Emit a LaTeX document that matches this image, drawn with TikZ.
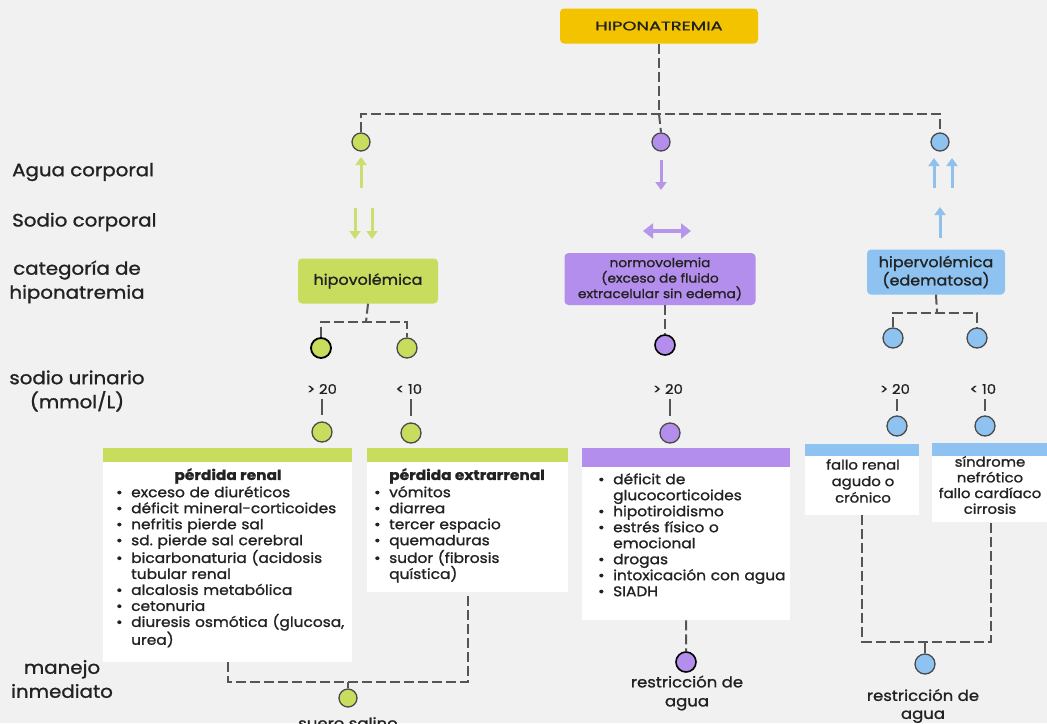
\documentclass[tikz,border=0pt]{standalone}
\usepackage{fontspec}
\setmainfont{Poppins}[FakeStretch=1.1, FakeBold=1.2]
\usetikzlibrary{arrows.meta}
\definecolor{bg}{HTML}{F1F1F1}
\definecolor{gold}{HTML}{F3C300}
\definecolor{lime}{HTML}{C8DC5E}
\definecolor{lav}{HTML}{B48EEC}
\definecolor{sky}{HTML}{8EC3F1}
\definecolor{limeA}{HTML}{CADE72}
\definecolor{lavA}{HTML}{B696EA}
\definecolor{skyA}{HTML}{8FC1EC}
\definecolor{dashc}{HTML}{555555}
\definecolor{ring}{HTML}{4A4A4A}
\definecolor{ink}{HTML}{222222}
\newcommand\myfs[2]{\fontsize{#1}{#2}\selectfont}
\newcommand\bitem[1]{\par\hangindent=16pt\hangafter=1\noindent\makebox[16pt][l]{\hspace{1pt}\textbullet}#1}
\tikzset{
 dl/.style={draw=dashc, line width=2pt, dash pattern=on 10pt off 4pt},
 stub/.style={draw=dashc, line width=2pt},
 dot/.style={circle, draw=ring, line width=1.3pt, minimum size=18pt, inner sep=0pt},
 dotb/.style={circle, draw=ring, line width=1.3pt, minimum size=20pt, inner sep=0pt},
 rowlab/.style={font=\myfs{18}{24}, text=ink, inner sep=0pt},
 cat/.style={rounded corners=4pt, inner sep=0pt, align=center, font=\myfs{12.5}{15.5}, text=ink},
 card/.style={fill=white, inner sep=0pt, anchor=north west},
 list/.style={anchor=north west, inner sep=0pt, align=left, font=\myfs{14}{16}, text=ink},
 lab/.style={font=\myfs{13.5}{16}, text=ink, inner sep=0pt},
 arr/.style={line width=3pt, -{Triangle[width=11pt,length=8pt]}},
}
\begin{document}
\begin{tikzpicture}[x=1pt,y=-1pt]
\fill[bg] (0,0) rectangle (1047,723);
\clip (0,0) rectangle (1047,723);

% title
\node[cat, fill=gold, minimum width=198pt, minimum height=35pt, font=\myfs{12.5}{16}] (top) at (659,26) {\scalebox{1.3}[1]{HIPONATREMIA}};

% row labels
\node[rowlab, anchor=west] (l1) at (12,172) {Agua corporal};
\node[rowlab, anchor=west] (l2) at (12,222) {Sodio corporal};
\node[rowlab, align=center] (l3) at (77,282) {categoría de\\hiponatremia};
\node[rowlab, align=center] (l4) at (77,391) {sodio urinario\\(mmol/L)};
\node[rowlab, align=center] (l5) at (62,679) {manejo\\inmediato};

% top circles
\node[dot, fill=lime] (c1) at (361,142) {};
\node[dot, fill=lav] (c2) at (661,142) {};
\node[dot, fill=sky] (c3) at (940,142) {};
\coordinate (j1) at (659,114);
\draw[dl] (top.south) -- (j1);
\draw[dl] (c1.north) |- (j1) -| (c3.north);
\draw[dl] (j1) -- (c2.north);

% arrows
\draw[arr, limeA] (361,188) -- (361,157);
\draw[arr, lavA] (661,160) -- (661,190);
\draw[arr, skyA] (934,188) -- (934,158);
\draw[arr, skyA] (952,188) -- (952,158);
\draw[arr, limeA] (355,208) -- (355,239);
\draw[arr, limeA] (372,208) -- (372,239);
\draw[line width=4pt, lavA, {Triangle[width=15pt,length=10pt]}-{Triangle[width=15pt,length=10pt]}] (643,231) -- (691,231);
\draw[arr, skyA] (940,238) -- (940,207);

% category boxes
\node[cat, fill=lime, minimum width=140pt, minimum height=45pt, font=\myfs{14.5}{17}] (hypo) at (368,281) {hipovolémica};
\node[cat, fill=lav, minimum width=191pt, minimum height=52pt] (normo) at (660,279) {normovolemia\\(exceso de fluido\\extracelular sin edema)};
\node[cat, fill=sky, minimum width=138pt, minimum height=45pt, font=\myfs{14.5}{17}] (hyper) at (936,272) {hipervolémica\\(edematosa)};

% second-level circles
\node[dotb, fill=lime, draw=black, line width=1.8pt] (c4) at (321,348) {};
\node[dotb, fill=lime] (c5) at (407,348) {};
\node[dotb, fill=lav, draw=black, line width=1.6pt] (c6) at (665,345) {};
\node[dotb, fill=sky] (c7) at (893,338) {};
\node[dotb, fill=sky] (c8) at (977,338) {};
\coordinate (j2) at (366,322);
\coordinate (j3) at (937,313);
\draw[dl] (hypo.south) -- (j2);
\draw[dl] (c4.north) |- (j2) -| (c5.north);
\draw[dl] (c6.north |- normo.south) -- (c6.north);
\draw[dl] (hyper.south) -- (j3);
\draw[dl] (c7.north) |- (j3) -| (c8.north);

% urinary sodium labels
\node[lab] (g1) at (322,389) {> 20};
\node[lab] (g2) at (409,389) {< 10};
\node[lab] (g3) at (668,389) {> 20};
\node[lab] (g4) at (895,389) {> 20};
\node[lab] (g5) at (983,389) {< 10};

% third-level circles
\node[dotb, fill=lime] (d1) at (322,432) {};
\node[dotb, fill=lime] (d2) at (411,433) {};
\node[dotb, fill=lav] (d3) at (670,433) {};
\node[dotb, fill=sky] (d4) at (897,426) {};
\node[dotb, fill=sky] (d5) at (985,426) {};
\draw[stub, shorten <=5pt, shorten >=6pt] (d1.north |- g1.south) -- (d1.north);
\draw[stub, shorten <=5pt, shorten >=6pt] (d2.north |- g2.south) -- (d2.north);
\draw[stub, shorten <=5pt, shorten >=6pt] (d3.north |- g3.south) -- (d3.north);
\draw[stub, shorten <=5pt, shorten >=4pt] (d4.north |- g4.south) -- (d4.north);
\draw[stub, shorten <=5pt, shorten >=4pt] (d5.north |- g5.south) -- (d5.north);

% cards
\node[card, minimum width=249pt, minimum height=214pt] (renal) at (103,448) {};
\fill[lime] (renal.north west) rectangle ([yshift=-14pt]renal.north east);
\node[card, minimum width=201pt, minimum height=144pt] (extra) at (367,448) {};
\fill[lime] (extra.north west) rectangle ([yshift=-14pt]extra.north east);
\node[card, minimum width=208pt, minimum height=172pt] (pbox) at (582,448) {};
\fill[lav] (pbox.north west) rectangle ([yshift=-19pt]pbox.north east);
\node[card, minimum width=114pt, minimum height=71pt] (fallo) at (805,444) {};
\fill[sky] (fallo.north west) rectangle ([yshift=-12pt]fallo.north east);
\node[card, minimum width=117pt, minimum height=79pt] (sind) at (932,443) {};
\fill[sky] (sind.north west) rectangle ([yshift=-13pt]sind.north east);

% card texts
\node[font=\myfs{14}{16}\bfseries, text=ink, inner sep=0pt] (t1) at (228,476) {pérdida renal};
\node[list, text width=240pt] (renaltxt) at (115,481) {%
\bitem{exceso de diuréticos}
\bitem{déficit mineral-corticoides}
\bitem{nefritis pierde sal}
\bitem{sd.\ pierde sal cerebral}
\bitem{bicarbonaturia (acidosis\newline tubular renal}
\bitem{alcalosis metabólica}
\bitem{cetonuria}
\bitem{diuresis osmótica (glucosa,\newline urea)}\par};
\node[font=\myfs{14}{16}\bfseries, text=ink, inner sep=0pt] (t2) at (467,476) {pérdida extrarrenal};
\node[list, text width=190pt] (extratxt) at (373,481) {%
\bitem{vómitos}
\bitem{diarrea}
\bitem{tercer espacio}
\bitem{quemaduras}
\bitem{sudor (fibrosis\newline quística)}\par};
\node[list, text width=200pt] (ptxt) at (597,468) {%
\bitem{déficit de\newline glucocorticoides}
\bitem{hipotiroidismo}
\bitem{estrés físico o\newline emocional}
\bitem{drogas}
\bitem{intoxicación con agua}
\bitem{SIADH}\par};
\node[lab, align=center, font=\myfs{13.5}{16.5}] (fallotxt) at (863,481) {fallo renal\\agudo o\\crónico};
\node[lab, align=center, font=\myfs{13.5}{15.7}] (sindtxt) at (990,485) {síndrome\\nefrótico\\fallo cardíaco\\cirrosis};

% management
\node[dot, fill=lime] (m1) at (348,698) {};
\coordinate (j4) at (348,682);
\draw[dl] (renal.south) |- (j4) -| (extra.south);
\draw[stub] (j4) -- (m1.north);
\node[lab, font=\myfs{15}{18}] (m1t) at (348,723) {suero salino};

\node[dotb, fill=lav, draw=black, line width=1.6pt] (m2) at (686,662) {};
\draw[dl] (pbox.south) -- (m2.north);
\node[lab, align=center, font=\myfs{15}{19}] (m2t) at (687,693) {restricción de\\agua};

\node[dotb, fill=sky] (m3) at (925,664) {};
\coordinate (j5) at (925,642);
\draw[dl] (fallo.south) |- (j5) -| (sind.south);
\draw[stub] (j5) -- (m3.north);
\node[lab, align=center, font=\myfs{15}{18}] (m3t) at (923,706) {restricción de\\agua};
\end{tikzpicture}
\end{document}
